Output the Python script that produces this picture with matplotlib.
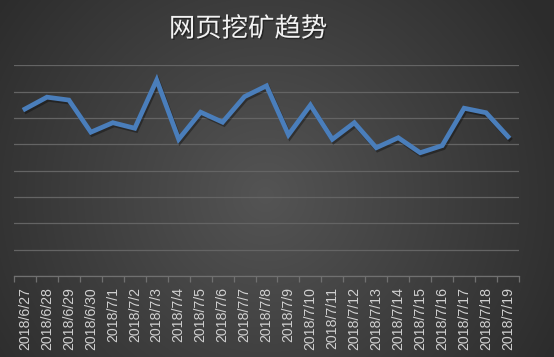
import numpy as np
import matplotlib
matplotlib.use("Agg")
import matplotlib.pyplot as plt
import matplotlib.patheffects as pe

dates = ["2018/6/27", "2018/6/28", "2018/6/29", "2018/6/30", "2018/7/1", "2018/7/2",
         "2018/7/3", "2018/7/4", "2018/7/5", "2018/7/6", "2018/7/7", "2018/7/8",
         "2018/7/9", "2018/7/10", "2018/7/11", "2018/7/12", "2018/7/13", "2018/7/14",
         "2018/7/15", "2018/7/16", "2018/7/17", "2018/7/18", "2018/7/19"]
values = [6.34, 6.79, 6.68, 5.46, 5.82, 5.61, 7.44, 5.19, 6.22, 5.84, 6.81, 7.22,
          5.36, 6.49, 5.19, 5.82, 4.87, 5.25, 4.68, 4.95, 6.37, 6.20, 5.29]
title = "网页挖矿趋势"

W, H = 554, 357
fig = plt.figure(figsize=(W / 100, H / 100), dpi=100)

# radial gradient background
bg = fig.add_axes([0, 0, 1, 1])
yy, xx = np.mgrid[0:H, 0:W]
r = np.sqrt((xx - 265) ** 2 + (yy - 195) ** 2)
t = np.clip(r / 330, 0, 1)
shade = 0x54 / 255 * (1 - t) + 0x2c / 255 * t
bg.imshow(np.dstack([shade, shade, shade]), extent=[0, W, H, 0], aspect="auto")
bg.set_axis_off()

left, right = 14 / W, 519 / W
top, bottom = 1 - 65.3 / H, 1 - 276 / H
ax = fig.add_axes([left, bottom, right - left, top - bottom])
ax.patch.set_alpha(0)

x = np.arange(len(dates))
ax.plot(x, values, color="#4a7ebb", lw=3.4, solid_joinstyle="miter", zorder=3,
        path_effects=[pe.SimpleLineShadow(offset=(1, -1.5), shadow_color="black", alpha=0.35),
                      pe.Normal()])
ax.set_xlim(-0.5, len(dates) - 0.5)
ax.set_ylim(0, 8)
ax.set_yticks(np.arange(0, 9, 1))
ax.yaxis.grid(True, color="#646464", lw=0.9)
ax.tick_params(axis="y", left=False, labelleft=False)
for s in ["left", "right", "top"]:
    ax.spines[s].set_visible(False)
ax.spines["bottom"].set_color("#707070")
ax.spines["bottom"].set_linewidth(0.9)

ax.set_xticks(x)
ax.set_xticklabels(dates, rotation=90, fontsize=10.2, color="#d0d0d0",
                   family=["Liberation Sans", "DejaVu Sans"])
ax.tick_params(axis="x", length=0, pad=8)
ax.set_xticks(np.arange(-0.5, len(dates), 1), minor=True)
ax.tick_params(axis="x", which="minor", length=4, color="#707070", width=0.9)

fig.text(248 / W, 1 - 29 / H, title, ha="center", va="center", fontsize=19,
         color="#f2f2f2", family=["Noto Sans CJK SC", "DejaVu Sans"],
         path_effects=[pe.withSimplePatchShadow(offset=(1, -1), shadow_rgbFace="black", alpha=0.4)])

fig.savefig("out.png", dpi=100)
